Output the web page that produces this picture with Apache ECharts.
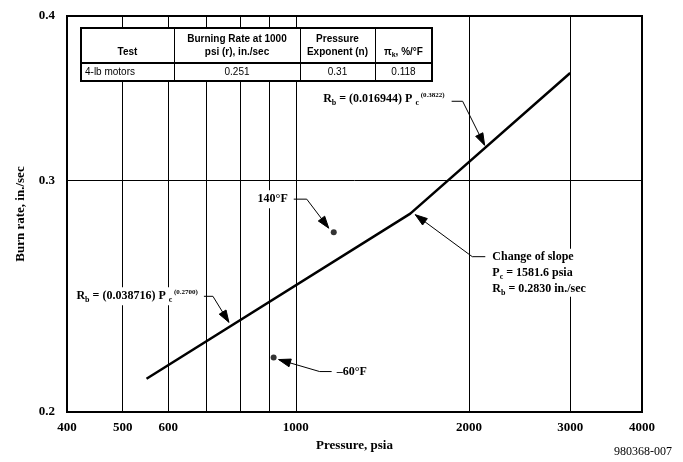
<!DOCTYPE html>
<html><head><meta charset="utf-8">
<script src="https://cdn.jsdelivr.net/npm/echarts@6/dist/echarts.min.js"></script>
<style>html,body{margin:0;padding:0;background:#fff}#c{width:683px;height:462px}</style>
</head><body><div id="c"></div>
<script>
// ---- data ----
const xTickLabels = [400, 500, 600, 1000, 2000, 3000, 4000];
const xGridValues = [500, 600, 700, 800, 900, 1000, 2000, 3000];
const yTickLabels = [0.2, 0.3, 0.4];
const yGridValues = [0.3];
const fitLine = [[550, 0.212], [1581.6, 0.283], [3000, 0.362]];
const tempPoints = [[1164, 0.274], [915, 0.220]];
const tableHeader = ['Test', 'Burning Rate at 1000\npsi (r), in./sec', 'Pressure\nExponent (n)', '{h|π}{hs|k}{h|, %/°F}'];
const tableRow = ['4-lb motors', '0.251', '0.31', '0.118'];
const upperAnchor = [2130, 0.319];
const lowerAnchor = [765, 0.234];

const serif = '"Liberation Serif","Times New Roman",serif';
const sans = '"Liberation Sans",Arial,sans-serif';

const chart = echarts.init(document.getElementById('c'), null, {renderer: 'canvas'});
const option = {
  animation: false,
  backgroundColor: '#fff',
  grid: {left: 67, top: 16, width: 575, height: 396, show: true, borderColor: '#000', borderWidth: 2, backgroundColor: 'transparent'},
  xAxis: {
    type: 'log', logBase: 10, min: 400, max: 4000,
    name: 'Pressure, psia', nameLocation: 'middle', nameGap: 21,
    nameTextStyle: {fontFamily: serif, fontWeight: 'bold', fontSize: 13, color: '#000'},
    axisLine: {show: false},
    axisTick: {show: false, customValues: xGridValues},
    axisLabel: {customValues: xTickLabels, fontFamily: serif, fontWeight: 'bold', fontSize: 13, color: '#000', margin: 9,
      formatter: v => String(Math.round(v))},
    splitLine: {show: true, lineStyle: {color: '#000', width: 1}},
    minorTick: {show: false}, minorSplitLine: {show: false}
  },
  yAxis: {
    type: 'log', logBase: 10, min: 0.2, max: 0.4,
    name: 'Burn rate, in./sec', nameLocation: 'middle', nameGap: 40,
    nameTextStyle: {fontFamily: serif, fontWeight: 'bold', fontSize: 13, color: '#000'},
    axisLine: {show: false},
    axisTick: {show: false, customValues: yGridValues},
    axisLabel: {customValues: yTickLabels, fontFamily: serif, fontWeight: 'bold', fontSize: 13, color: '#000', margin: 12,
      formatter: v => v.toFixed(1)},
    splitLine: {show: true, lineStyle: {color: '#000', width: 1}},
    minorTick: {show: false}, minorSplitLine: {show: false}
  },
  series: [
    {type: 'line', data: fitLine, symbol: 'none', lineStyle: {color: '#000', width: 2.5}, z: 5},
    {type: 'scatter', data: tempPoints, symbol: 'circle', symbolSize: 6, itemStyle: {color: '#000'}, z: 6}
  ]
};
chart.setOption(option);

function px(p) { return chart.convertToPixel({gridIndex: 0}, p); }

function leader(points) {
  const els = [];
  els.push({type: 'polyline', shape: {points: points}, style: {stroke: '#000', lineWidth: 1, fill: null}, z: 60});
  const p = points[points.length - 1], q = points[points.length - 2];
  let dx = p[0] - q[0], dy = p[1] - q[1];
  const len = Math.sqrt(dx * dx + dy * dy); dx /= len; dy /= len;
  const L = 12, W = 4;
  const bx = p[0] - dx * L, by = p[1] - dy * L;
  els.push({type: 'polygon', shape: {points: [p, [bx - dy * W, by + dx * W], [bx + dy * W, by - dx * W]]},
    style: {fill: '#000', stroke: '#000', lineWidth: 1}, z: 61});
  return els;
}
function off(t, dx, dy) { return [t[0] + dx, t[1] + dy]; }

const annRich = {
  n: {font: 'bold 12px ' + serif, fill: '#000', lineHeight: 16},
  s: {font: 'bold 8px ' + serif, fill: '#000', verticalAlign: 'bottom'},
  p: {font: 'bold 7px ' + serif, fill: '#000', verticalAlign: 'top'}
};
function annText(x, y, text, align) {
  return {type: 'text', x: x, y: y, z: 55,
    style: {text: text, rich: annRich, align: align, verticalAlign: 'middle', backgroundColor: '#fff', padding: [1, 2]}};
}

const g = [];
// upper formula
const tU = px(upperAnchor);
g.push(...leader([off(tU, -33, -44), off(tU, -22, -44), tU]));
g.push(annText(tU[0] - 38, tU[1] - 46, '{n|R}{s|b}{n| = (0.016944) P }{s|c}{p| (0.3822)}', 'right'));
// lower formula
const tL = px(lowerAnchor);
g.push(...leader([off(tL, -25, -26), off(tL, -16, -26), tL]));
g.push(annText(tL[0] - 29, tL[1] - 26, '{n|R}{s|b}{n| = (0.038716) P }{s|c}{p| (0.2700)}', 'right'));
// change of slope
const k = px(fitLine[1]);
const tK = off(k, 5, 1);
g.push(...leader([off(tK, 70, 42), off(tK, 57, 42), tK]));
g.push({type: 'text', x: tK[0] + 75, y: tK[1] + 34, z: 55,
  style: {text: '{n|Change of slope}\n{n|P}{s|c}{n| = 1581.6 psia}\n{n|R}{s|b}{n| = 0.2830 in./sec}', rich: annRich,
    align: 'left', verticalAlign: 'top', backgroundColor: '#fff', padding: [0, 2]}});
// 140F
const hot = px(tempPoints[0]);
const tH = off(hot, -5, -4);
g.push(...leader([off(tH, -35, -29), off(tH, -22, -29), tH]));
g.push(annText(tH[0] - 39, tH[1] - 29, '{n|140°F}', 'right'));
// -60F
const cold = px(tempPoints[1]);
const tC = off(cold, 5, 2);
g.push(...leader([off(tC, 53, 12), off(tC, 41, 12), tC]));
g.push(annText(tC[0] + 56, tC[1] + 12, '{n|–60°F}', 'left'));

// table
const tx = [81, 174, 300, 375, 432];
const ty = [28, 63, 81];
g.push({type: 'rect', shape: {x: tx[0], y: ty[0], width: tx[4] - tx[0], height: ty[2] - ty[0]},
  style: {fill: '#fff', stroke: '#000', lineWidth: 2}, z: 70});
g.push({type: 'line', shape: {x1: tx[0], y1: ty[1], x2: tx[4], y2: ty[1]}, style: {stroke: '#000', lineWidth: 2}, z: 71});
for (let i = 1; i < 4; i++) {
  g.push({type: 'line', shape: {x1: tx[i] + 0.5, y1: ty[0], x2: tx[i] + 0.5, y2: ty[2]}, style: {stroke: '#000', lineWidth: 1}, z: 71});
}
const hRich = {h: {font: 'bold 10px ' + sans, fill: '#000', lineHeight: 13}, hs: {font: 'bold 7px ' + sans, fill: '#000', verticalAlign: 'bottom'}};
tableHeader.forEach((t, i) => {
  const isRich = t.indexOf('{') === 0;
  g.push({type: 'text', x: (tx[i] + tx[i + 1]) / 2, y: ty[1] - 4, z: 72,
    style: isRich ? {text: t, rich: hRich, align: 'center', verticalAlign: 'bottom'}
                  : {text: t, font: 'bold 10px ' + sans, fill: '#000', lineHeight: 13, align: 'center', verticalAlign: 'bottom'}});
});
tableRow.forEach((t, i) => {
  g.push({type: 'text', x: i === 0 ? tx[0] + 4 : (tx[i] + tx[i + 1]) / 2, y: (ty[1] + ty[2]) / 2 + 0.5, z: 72,
    style: {text: t, font: '10px ' + sans, fill: '#000', align: i === 0 ? 'left' : 'center', verticalAlign: 'middle'}});
});
// figure id
g.push({type: 'text', x: 672, y: 452, z: 72, style: {text: '980368-007', font: '12px ' + serif, fill: '#000', align: 'right', verticalAlign: 'middle'}});

chart.setOption({graphic: {elements: g}});
</script>
</body></html>
